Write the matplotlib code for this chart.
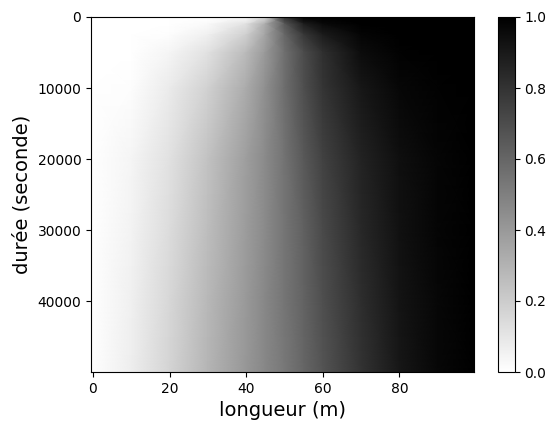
"""
Carte espace-temps de la concentration (diffusion) - niveaux de gris
"""

import numpy as np
import matplotlib
matplotlib.use('Agg')
import matplotlib.pyplot as plt

# positions le long du domaine (m), bords du domaine inclus
longueur = [-0.5, 10, 20, 30, 40, 45, 50, 55, 60, 70, 80, 90, 99.5]

# instants (s)
duree = [0, 1000, 2500, 5000, 10000, 20000, 30000, 40000, 50000]

# profils, une ligne par instant
profil_t0 = [0, 0, 0, 0, 0.02, 0.15, 0.80, 1, 1, 1, 1, 1, 1]
profil_t1000 = [0, 0, 0, 0.02, 0.12, 0.33, 0.65, 0.88, 0.96, 1, 1, 1, 1]
profil_t2500 = [0, 0, 0.01, 0.06, 0.19, 0.36, 0.59, 0.78, 0.89, 0.98, 1, 1, 1]
profil_t5000 = [0, 0, 0.04, 0.12, 0.27, 0.40, 0.56, 0.70, 0.81, 0.95, 0.99, 1, 1]
profil_t10000 = [0, 0.01, 0.08, 0.18, 0.33, 0.44, 0.57, 0.69, 0.79, 0.91, 0.97, 0.99, 1]
profil_t20000 = [0, 0.04, 0.12, 0.24, 0.38, 0.46, 0.55, 0.65, 0.74, 0.86, 0.94, 0.98, 1]
profil_t30000 = [0, 0.05, 0.14, 0.26, 0.39, 0.46, 0.54, 0.62, 0.71, 0.84, 0.93, 0.98, 1]
profil_t40000 = [0, 0.06, 0.16, 0.28, 0.40, 0.47, 0.54, 0.61, 0.69, 0.82, 0.92, 0.97, 1]
profil_t50000 = [0, 0.07, 0.17, 0.29, 0.41, 0.47, 0.53, 0.60, 0.67, 0.80, 0.91, 0.97, 1]


def main():
    C = np.array([profil_t0, profil_t1000, profil_t2500, profil_t5000,
                  profil_t10000, profil_t20000, profil_t30000,
                  profil_t40000, profil_t50000])

    fig = plt.figure(figsize=(5.47, 4.23), dpi=100)
    ax = fig.add_axes([91 / 547, 51 / 423, 383 / 547, 355 / 423])
    cax = fig.add_axes([497.5 / 547, 51 / 423, 17 / 547, 355 / 423])

    mesh = ax.pcolormesh(longueur, duree, C, shading='gouraud',
                         cmap='gray_r', vmin=0, vmax=1, rasterized=True)
    ax.set_xlim(-0.5, 99.5)
    ax.set_ylim(50000, 0)
    ax.set_xticks([0, 20, 40, 60, 80])
    ax.set_yticks([0, 10000, 20000, 30000, 40000])
    ax.set_xlabel("longueur (m)", fontsize=14)
    ax.set_ylabel("durée (seconde)", fontsize=14)

    fig.colorbar(mesh, cax=cax, ticks=[0.0, 0.2, 0.4, 0.6, 0.8, 1.0])

    plt.savefig("out.png", dpi=100)


if __name__ == "__main__":
    main()
